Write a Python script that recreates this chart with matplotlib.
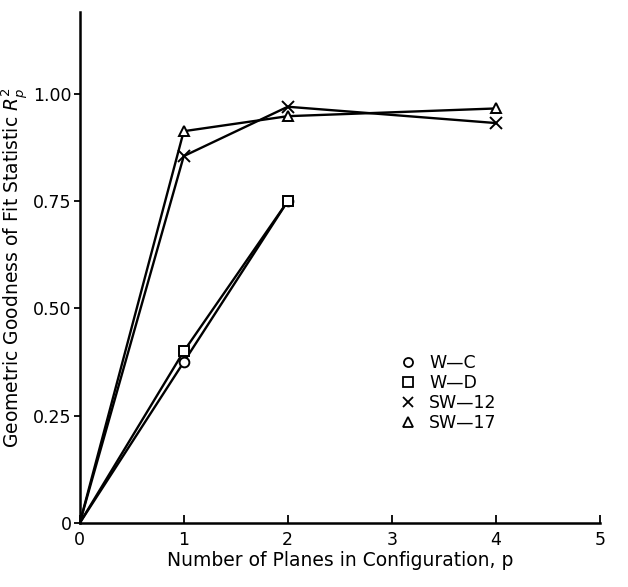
import matplotlib.pyplot as plt
from matplotlib.lines import Line2D

plt.rcParams['font.family'] = ['DejaVu Sans']

# data (every series starts at the origin)
p_wc = [0, 1, 2]
r_wc = [0, 0.375, 0.75]
p_wd = [0, 1, 2]
r_wd = [0, 0.40, 0.75]
p_sw12 = [0, 1, 2, 4]
r_sw12 = [0, 0.855, 0.970, 0.932]
p_sw17 = [0, 1, 2, 4]
r_sw17 = [0, 0.913, 0.948, 0.966]

names = ['W—C', 'W—D', 'SW—12', 'SW—17']
marks = ['o', 's', 'x', '^']
xticks = [0, 1, 2, 3, 4, 5]
yticks = [0, 0.25, 0.50, 0.75, 1.00]
yticklabels = ['0', '0.25', '0.50', '0.75', '1.00']

fig = plt.figure(figsize=(6.28, 5.87), dpi=100)
ax = fig.add_axes([0.127, 0.109, 0.828, 0.87])

series = [(p_wc, r_wc), (p_wd, r_wd), (p_sw12, r_sw12), (p_sw17, r_sw17)]
for (x, y), m in zip(series, marks):
    ax.plot(x, y, color='black', lw=1.7, marker=m, ms=7 if m != 'x' else 8,
            mfc='white', mec='black', mew=1.4, markevery=slice(1, None))

ax.set_xlim(0, 5)
ax.set_ylim(0, 1.19)
ax.set_xticks(xticks)
ax.set_yticks(yticks)
ax.set_yticklabels(yticklabels)
ax.tick_params(axis='x', direction='in', length=6, width=1.3, labelsize=12.5, pad=6)
ax.tick_params(axis='y', direction='out', length=4, width=1.3, labelsize=12.5, pad=2)

for s in ['top', 'right']:
    ax.spines[s].set_visible(False)
for s in ['left', 'bottom']:
    ax.spines[s].set_linewidth(1.8)

ax.set_xlabel('Number of Planes in Configuration, p', fontsize=13.5, labelpad=1)
ax.set_ylabel('Geometric Goodness of Fit Statistic $R_p^2$', fontsize=13.5, labelpad=2)

handles = [Line2D([], [], ls='none', marker=m, ms=6.5, mfc='white', mec='black', mew=1.3)
           for m in marks]
ax.legend(handles, names, loc='center left', bbox_to_anchor=(0.585, 0.255),
          frameon=False, fontsize=12.5, handlelength=1.0, handletextpad=0.7,
          labelspacing=0.12)

fig.savefig('out.png', dpi=100)
